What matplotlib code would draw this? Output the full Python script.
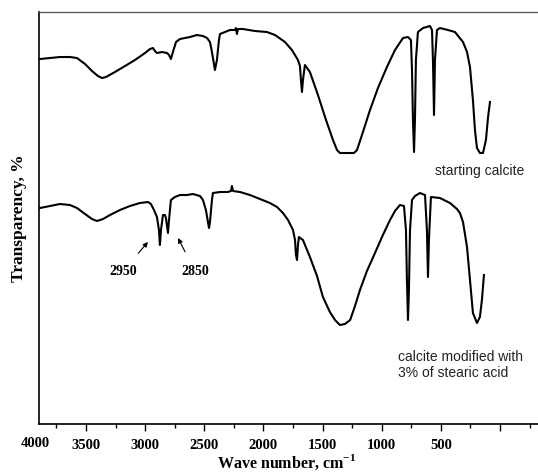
import matplotlib
matplotlib.use("Agg")
import matplotlib.pyplot as plt
from matplotlib.ticker import MultipleLocator, FixedLocator

# Wavenumbers (cm^-1) and transparency (arbitrary %)
wn_start = [3889,3804,3720,3635,3576,3508,3449,3399,3365,3331,3255,3170,3086,3001,2959,2934,2917,2900,2858,2815,
            2798,2782,2765,2739,2706,2621,2562,2511,2477,2452,2435,2418,2410,2393,2376,2367,2325,2283,2241,2232,
            2224,2215,2173,2071,1970,1902,1818,1759,1708,1691,1683,1674,1666,1649,1607,1539,1471,1412,1378,1353,
            1294,1235,1209,1167,1099,1032,956,888,820,778,753,744,736,727,719,711,694,651,592,575,567,558,550,533,
            508,440,381,313,279,254,229,212,195,170,144,119,102,85]
tr_start = [85.25,85.5,85.75,85.75,85.5,84,82.25,81,80.5,80.75,82,83.5,85,86.75,87.75,88,87.25,86.75,87,86.75,
            86.25,85.25,87,89.5,90.25,90.75,91.25,91,90.5,89.5,87,84,82.5,85,90,91.5,92,92.5,92.5,93,
            91.5,92.75,92.75,92.25,92,91.25,89.5,87.5,85,83.5,80,77,80,83.75,82,76.25,70,65,62.5,61.75,
            61.75,61.75,62.5,66.25,72.5,78,83.25,87.5,90.5,90.75,90,82.5,70,62,70,85,92,93,93.5,92.5,85,71.25,85,92.5,
            93,92.5,92,89.5,87,83.25,75,67.5,63,61.75,61.75,65,70.5,74.5]

wn_mod = [3889,3804,3720,3635,3576,3508,3449,3407,3356,3297,3213,3128,3044,2976,2951,2925,2900,2883,2875,2866,
          2849,2832,2824,2815,2807,2798,2782,2748,2706,2646,2596,2536,2511,2486,2469,2460,2452,2435,2427,2367,
          2300,2274,2266,2257,2198,2114,2029,1945,1885,1835,1792,1750,1733,1725,1716,1708,1700,1666,1607,1547,
          1497,1438,1395,1353,1311,1267,1226,1184,1125,1057,990,930,888,846,812,795,787,778,770,761,744,719,677,
          634,618,609,601,584,508,423,364,339,313,279,254,229,195,170,153,136]
tr_mod = [48,48.5,49,48.75,48,46.5,45.25,44.75,45.25,46.25,47.5,48.5,49.25,49.5,49,47.5,45.75,42.5,38.75,42.5,
          46.25,46.25,45.5,43.5,41.75,45,50,50.75,51.25,51.25,51.5,51,50,47.5,44.5,43,44.5,50,51.75,52,
          52,52.25,53.5,52.25,52,51.25,50.25,49.25,48.25,46.75,45,42.5,40,36.25,35,38.75,40.75,40,35.75,31,
          25.75,22,20,18.75,19,20,23.5,27.5,32.25,36.75,41.25,45,47.25,48.75,48.5,42.5,30,20,27.5,42.5,50,51,51.75,
          51.25,42.5,30.75,40,50.75,50.5,49.25,47.75,46.75,44.5,38.25,30,21.75,19.25,20.75,25,31.25]

major_ticks = [3500, 3000, 2500, 2000, 1500, 1000, 500, 0]
major_labels = ["3500", "3000", "2500", "2000", "1500", "1000", "500", ""]

fig = plt.figure(figsize=(5.38, 4.73), dpi=100)
ax = fig.add_axes([0.0725, 0.1036, 0.9275, 0.871])

ax.plot(wn_start, tr_start, color="black", lw=1.5)
ax.plot(wn_mod, tr_mod, color="black", lw=1.5)

ax.set_xlim(3897, -321)
ax.set_ylim(-6, 97)

ax.xaxis.set_major_locator(FixedLocator(major_ticks))
ax.set_xticklabels(major_labels)
ax.xaxis.set_minor_locator(MultipleLocator(250))
ax.set_yticks([])

serif = ["Liberation Serif", "DejaVu Serif"]
ax.tick_params(axis="x", which="major", direction="out", length=5, width=1.0, pad=5.5)
ax.tick_params(axis="x", which="minor", direction="out", length=3, width=1.0)
for lab in ax.get_xticklabels():
    lab.set_fontfamily(serif)
    lab.set_fontweight("bold")
    lab.set_fontsize(10.5)

ax.annotate("4000", xy=(3925, 0), xycoords=("data", "axes fraction"),
            xytext=(0, -9.1), textcoords="offset points", ha="center", va="top",
            fontsize=10.5, fontweight="bold", family=serif, annotation_clip=False)

for s in ["left", "bottom"]:
    ax.spines[s].set_linewidth(1.2)
ax.spines["top"].set_linewidth(0.9)
ax.spines["top"].set_color("#555555")
ax.spines["right"].set_visible(False)

ax.set_xlabel("Wave number, cm$^{\\mathregular{-1}}$", family=serif, fontweight="bold", fontsize=11.5)
ax.xaxis.set_label_coords(0.497, -0.069)
ax.set_ylabel("Transparency, %", family=serif, fontweight="bold", fontsize=12.5)
ax.yaxis.set_label_coords(-0.024, 0.5)

sans = ["Liberation Sans", "DejaVu Sans"]
ax.text(550, 57.25, "starting calcite", ha="left", va="center", fontsize=10, family=sans, color="#222222")
ax.text(863, 8.75, "calcite modified with\n3% of stearic acid", ha="left", va="center",
        fontsize=10, family=sans, color="#222222", linespacing=1.1)

ax.annotate("2950", xy=(2976, 39.5), xytext=(3187, 32.25), ha="center", va="center",
            fontsize=10, fontweight="bold", family=serif,
            arrowprops=dict(arrowstyle="-|>", lw=0.8, color="black", mutation_scale=7, shrinkA=8, shrinkB=0))
ax.annotate("2850", xy=(2722, 40.5), xytext=(2579, 32.25), ha="center", va="center",
            fontsize=10, fontweight="bold", family=serif,
            arrowprops=dict(arrowstyle="-|>", lw=0.8, color="black", mutation_scale=7, shrinkA=8, shrinkB=0))

fig.savefig("out.png", dpi=100)
